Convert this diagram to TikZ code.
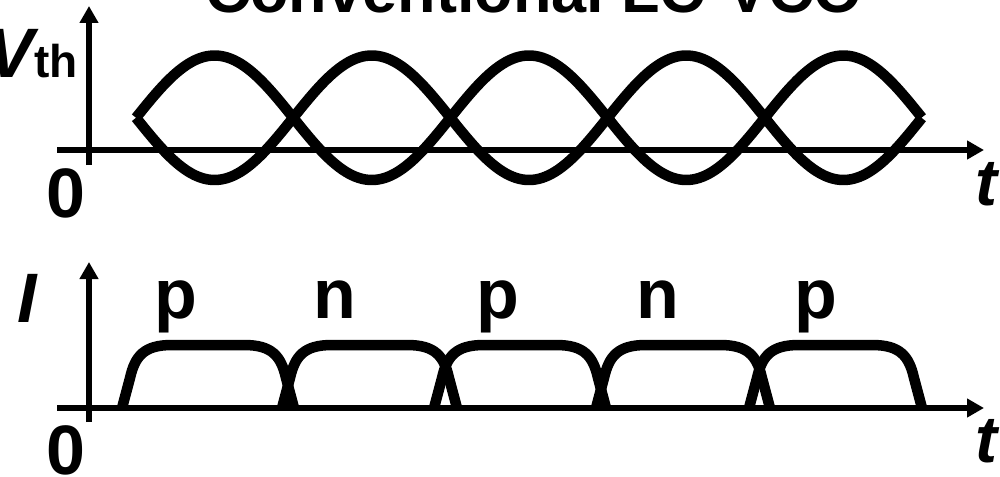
\documentclass[tikz,border=0pt]{standalone}
\usepackage{fontspec}
\setmainfont{Liberation Sans}
\usetikzlibrary{arrows.meta}
\begin{document}
\begin{tikzpicture}[x=1pt,y=-1pt,
  axis/.style={line width=6pt, -{Triangle[width=18pt,length=17pt]}},
  wave/.style={line width=10.5pt, line join=round},
  lbl/.style={inner sep=0pt, font=\bfseries\fontsize{70}{84}\selectfont},
]
\useasboundingbox (0,0) rectangle (1000,476);

% title (mostly cut off at the top)
\node[anchor=base, inner sep=0pt, font=\bfseries\fontsize{63}{70}\selectfont] (title) at (534,13) {Conventional LC-VCO};

% ---------- top plot ----------
\coordinate (vy0) at (89,165);
\coordinate (vy1) at (89,6);
\coordinate (vx0) at (57,150);
\coordinate (vx1) at (984,150);
\draw[axis] (vy0) -- (vy1);
\draw[axis] (vx0) -- (vx1);

\draw[wave] plot[domain=0:5, samples=241, smooth] ({136+157.2*\x}, {117.75-62.25*sin(180*\x)});
\draw[wave] plot[domain=0:5, samples=241, smooth] ({136+157.2*\x}, {117.75+62.25*sin(180*\x)});

\node[lbl, anchor=base east] (vth) at (78,78) {\itshape V\upshape\bfseries\fontsize{46}{50}\selectfont th};
\node[lbl, anchor=base] (zero1) at (65.5,217) {0};
\node[lbl, anchor=base west, font=\bfseries\itshape\fontsize{66}{80}\selectfont] (t1) at (975,205) {t};

% ---------- bottom plot ----------
\coordinate (iy0) at (89,422);
\coordinate (iy1) at (89,262);
\coordinate (ix0) at (57,408);
\coordinate (ix1) at (984,408);
\draw[axis] (iy0) -- (iy1);
\draw[axis] (ix0) -- (ix1);

\foreach \s/\e in {122/294, 282/457, 434/606, 596/770, 749/922} {
  \draw[wave] (\s,408) -- ({\s+8},378)
     .. controls ({\s+13},356) and ({\s+22},345) .. ({\s+50},345)
     -- ({\e-50},345)
     .. controls ({\e-22},345) and ({\e-13},356) .. ({\e-8},378)
     -- (\e,408);
}

\node[lbl, anchor=base, font=\bfseries\itshape\fontsize{70}{84}\selectfont] (ilab) at (27,322) {I};
\node[lbl, anchor=base] (zero2) at (65.5,474) {0};
\node[lbl, anchor=base west, font=\bfseries\itshape\fontsize{66}{80}\selectfont] (t2) at (975,462) {t};

\node[lbl, anchor=base] (p1) at (176,318) {p};
\node[lbl, anchor=base] (n1) at (335,318) {n};
\node[lbl, anchor=base] (p2) at (498,318) {p};
\node[lbl, anchor=base] (n2) at (658,318) {n};
\node[lbl, anchor=base] (p3) at (816,318) {p};
\end{tikzpicture}
\end{document}
